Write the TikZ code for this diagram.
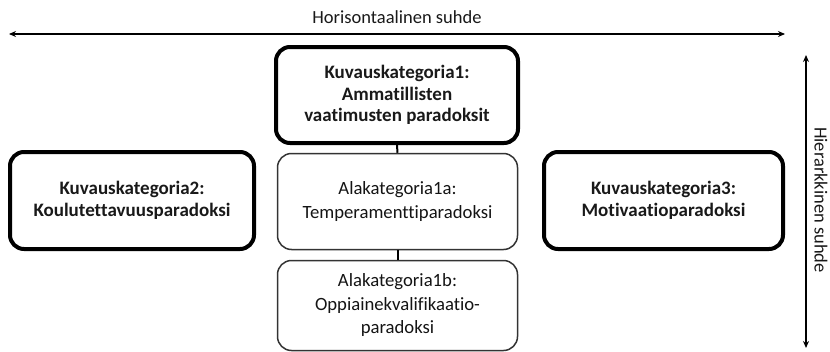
\documentclass[tikz,border=0pt]{standalone}
\usepackage{fontspec}
\setmainfont{Carlito}[Ligatures=NoCommon]
\usetikzlibrary{arrows.meta}
\tikzset{
  main/.style={draw=black, line width=4pt, rounded corners=14pt, align=center,
    font=\fontsize{19}{21.5}\selectfont\bfseries, text=black!90, inner sep=0pt},
  sub/.style={draw=black!80, line width=1.5pt, rounded corners=14pt, align=center,
    font=\fontsize{18.7}{23.5}\selectfont, text=black!92, inner sep=0pt,
    minimum width=240pt},
  link/.style={draw=black, line width=2pt},
  relarrow/.style={draw=black, line width=1.6pt, {Stealth[length=7pt,width=6pt]}-{Stealth[length=7pt,width=6pt]}},
  lbl/.style={font=\fontsize{18.5}{21}\selectfont, text=black!90, inner sep=0pt}
}
\begin{document}
\begin{tikzpicture}[x=1pt,y=-1pt]
\useasboundingbox (0,0) rectangle (830,351);
\node[main, minimum width=242pt, minimum height=96pt] (k1) at (397,95)
  {Kuvauskategoria1:\\Ammatillisten\\vaatimusten paradoksit};
\node[main, minimum width=244pt, minimum height=97pt] (k2) at (132,200.5)
  {Kuvauskategoria2:\\Koulutettavuusparadoksi};
\node[main, minimum width=239pt, minimum height=97pt] (k3) at (663.5,200.5)
  {Kuvauskategoria3:\\Motivaatioparadoksi};
\node[sub, minimum height=96pt] (a1) at (397.5,201.5)
  {Alakategoria1a:\\Temperamenttiparadoksi};
\node[sub, minimum height=90pt] (a2) at (397.5,305.5)
  {Alakategoria1b:\\Oppiainekvalifikaatio-\\paradoksi};
\draw[link] (k1.south) -- (a1.north);
\draw[link] (a1.south) -- (a2.north);
\coordinate (hl) at (9,34);
\coordinate (hr) at (785,34);
\coordinate (vt) at (806,55);
\coordinate (vb) at (806,348);
\draw[relarrow] (hl) -- (hr);
\draw[relarrow] (vt) -- (vb);
\node[lbl] (ht) at (397,17) {Horisontaalinen suhde};
\node[lbl, rotate=-90] (vtx) at (821,200) {Hierarkkinen suhde};
\end{tikzpicture}
\end{document}
